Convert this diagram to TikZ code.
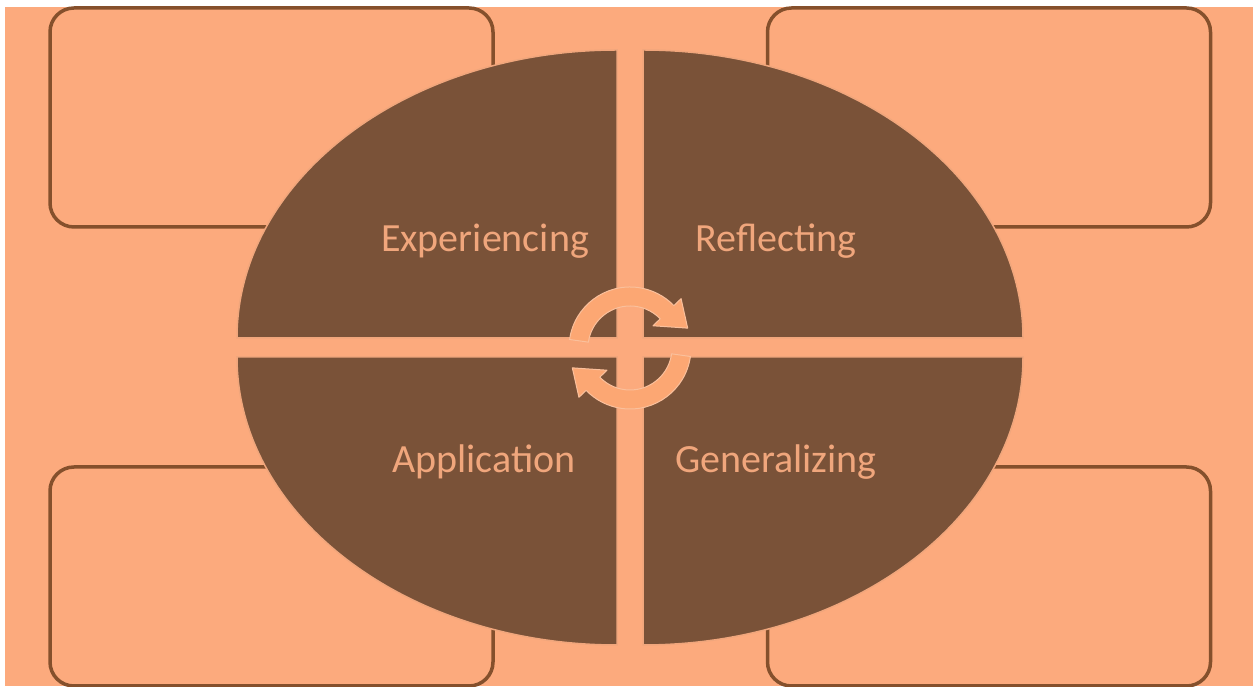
\documentclass[tikz,border=0pt]{standalone}
\usepackage{fontspec}
\setmainfont{Carlito}
\definecolor{peach}{HTML}{FCAA7D}
\definecolor{cocoa}{HTML}{7A5238}
\definecolor{rim}{HTML}{85502C}
\definecolor{pale}{HTML}{F0A67C}
\definecolor{glow}{HTML}{FAC09C}
\tikzstyle{panel} = [draw=rim, line width=3.5pt, rounded corners=24pt, minimum width=443pt, minimum height=219pt, fill=peach]
\tikzstyle{slice} = [fill=cocoa, draw=pale, line width=1.5pt]
\tikzstyle{stage} = [text=pale, font={\fontsize{40}{48}\selectfont}]
\tikzstyle{turn} = [fill=peach!92!orange, draw=glow, line width=1pt, line join=round]

\begin{document}
\begin{tikzpicture}[x=1pt,y=1pt]
    \useasboundingbox (0,0) rectangle (1253,687);
    \fill[white] (0,0) rectangle (1253,687);
    \fill[peach] (5,1) rectangle (1253,680);
    \node[panel](tl) at (271.5,569.5){};
    \node[panel](tr) at (989,569.5){};
    \node[panel](bl) at (271.5,110.5){};
    \node[panel](br) at (989,110.5){};
    \draw[slice] (617,349) -- (237,349) arc[start angle=180,end angle=90,x radius=380,y radius=288] -- cycle;
    \draw[slice] (643,349) -- (1023,349) arc[start angle=0,end angle=90,x radius=380,y radius=288] -- cycle;
    \draw[slice] (617,330) -- (237,330) arc[start angle=180,end angle=270,x radius=380,y radius=288] -- cycle;
    \draw[slice] (643,330) -- (1023,330) arc[start angle=0,end angle=-90,x radius=380,y radius=288] -- cycle;
    \node[stage](exp) at (485,446){Experiencing};
    \node[stage](ref) at (776,446){Reflecting};
    \node[stage](app) at (484,225){Application};
    \node[stage](gen) at (776,225){Generalizing};
    \draw[turn,shift={(630,339)}] (172:42) -- (172:61) arc[start angle=172,end angle=44,radius=61] -- (44:71) -- (19:61) -- (44:32) -- (44:42) arc[start angle=44,end angle=172,radius=42] -- cycle;
    \draw[turn,shift={(630,339)},rotate=180] (172:42) -- (172:61) arc[start angle=172,end angle=44,radius=61] -- (44:71) -- (19:61) -- (44:32) -- (44:42) arc[start angle=44,end angle=172,radius=42] -- cycle;
  \end{tikzpicture}
\end{document}
